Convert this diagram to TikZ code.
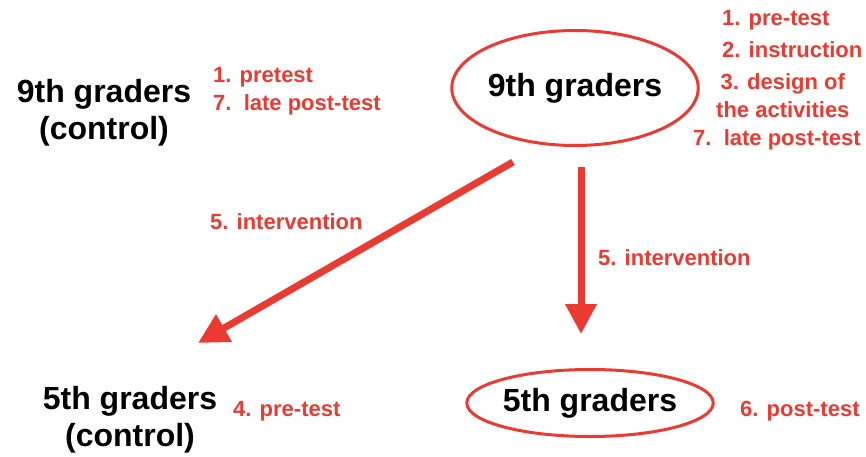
\documentclass[tikz,border=0pt]{standalone}
\usepackage{fontspec}
\setmainfont{Liberation Sans}
\usepackage{tikz}
\usetikzlibrary{positioning,shapes.geometric,arrows.meta}
\definecolor{marker}{RGB}{234,58,50}

\begin{document}
\begin{tikzpicture}[x=1pt,y=-1pt,
	group/.style={font=\fontsize{32}{37}\selectfont\bfseries, align=center, inner sep=0},
	task/.style={text=marker, font=\fontsize{22}{28}\selectfont\bfseries, align=left, inner sep=0, anchor=west},
	ring/.style={ellipse, draw=marker, line width=3pt},
	flow/.style={draw=marker, line width=7pt, -{Triangle[width=30pt,length=30pt]}}]
	\useasboundingbox (0,0) rectangle (866,457);
	\node[group] (c9) at (104,113) {9th graders\\(control)};
	\node[task] (c9t) at (213,91) {1. pretest\\7.\ \ late post-test};
	\node[group, ring, minimum width=233pt, minimum height=115pt] (e9) at (575,88) {9th graders};
	\foreach \x/\y/\n/\t in {722/20/1/{1. pre-test},722/50/2/{2. instruction},693/140/7/{7.\ \ late post-test}} {
		\node[task] (r\n) at (\x,\y) {\t};
	};
	\node[task, align=center] (r3) at (716,96) {3. design of\\the activities};
	\node[group] (c5) at (130,420) {5th graders\\(control)};
	\node[task] (c5t) at (233,411) {4. pre-test};
	\node[group, ring, minimum width=237pt, minimum height=67pt] (e5) at (590,403) {5th graders};
	\node[task] (e5t) at (740,411) {6. post-test};
	\coordinate (s1) at (513,162);
	\coordinate (t1) at (198,343);
	\coordinate (s2) at (581,167);
	\coordinate (t2) at (581,334);
	\path[flow] (s1) -- (t1);
	\path[flow] (s2) -- (t2);
	\node[task] (i1) at (210,222) {5. intervention};
	\node[task] (i2) at (598,258) {5. intervention};
\end{tikzpicture}
\end{document}
